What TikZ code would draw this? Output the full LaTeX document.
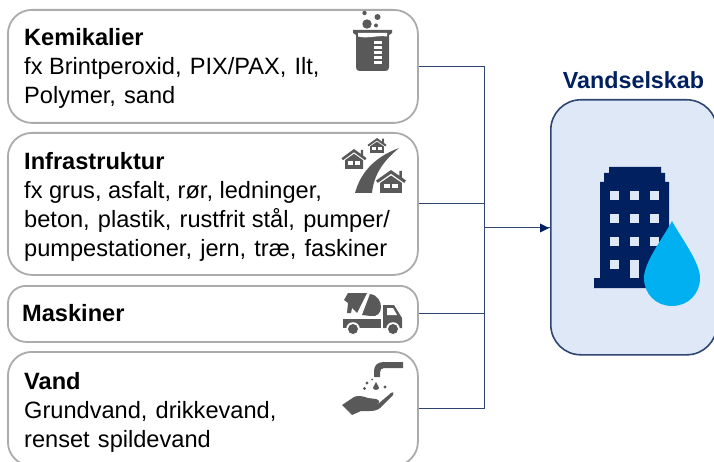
\documentclass[tikz,border=0pt]{standalone}
\usepackage{fontspec}
\setmainfont{Liberation Sans}
\definecolor{navy}{HTML}{002060}
\definecolor{boxgray}{HTML}{ABABAB}
\definecolor{icongray}{HTML}{595959}
\definecolor{linkblue}{HTML}{2F4672}
\definecolor{paleblue}{HTML}{DEE8F7}
\definecolor{dropblue}{HTML}{00B0F0}
\tikzset{
  x=1pt,y=-1pt,
  inbox/.style={draw=boxgray,line width=1.8pt,fill=white,rounded corners=24pt,minimum width=410pt,inner sep=0pt,anchor=north west},
  company/.style={draw=linkblue,line width=1.6pt,fill=paleblue,rounded corners=30pt,minimum width=166pt,minimum height=255pt,inner sep=0pt,anchor=north west},
  boxtext/.style={anchor=north west,align=left,inner sep=0pt,font=\fontsize{23.6}{29}\selectfont,text=black},
  link/.style={draw=linkblue,line width=1pt},
  icon/.style={fill=icongray,draw=none},
  hole/.style={fill=white,draw=none}
}
\newcommand{\gap}{\ \kern.07em}
\newcommand{\hut}[4]{% x apex, y apex, half width, height
  \fill[icongray] (#1-#3,#2+#4*0.46) -- (#1,#2) -- (#1+#3*0.55,#2+#4*0.25) -- (#1+#3*0.55,#2+#4*0.04) -- (#1+#3*0.72,#2+#4*0.04) -- (#1+#3*0.72,#2+#4*0.32) -- (#1+#3,#2+#4*0.46) -- (#1+#3*0.88,#2+#4*0.56) -- (#1,#2+#4*0.16) -- (#1-#3*0.88,#2+#4*0.56) -- cycle;
  \fill[icongray] (#1-#3*0.72,#2+#4*0.56) -- (#1,#2+#4*0.24) -- (#1+#3*0.72,#2+#4*0.56) -- (#1+#3*0.72,#2+#4) -- (#1-#3*0.72,#2+#4) -- cycle;
  \fill[white] (#1-#3*0.48,#2+#4*0.60) rectangle (#1-#3*0.08,#2+#4*0.80);
  \fill[white] (#1+#3*0.08,#2+#4*0.60) rectangle (#1+#3*0.48,#2+#4*0.80);
}
\begin{document}
\begin{tikzpicture}
\useasboundingbox (0,0) rectangle (714,462);
\clip (0,0) rectangle (714,462);
% boxes
\node[inbox,minimum height=113pt] (kem) at (7,9) {};
\node[inbox,minimum height=142pt] (inf) at (7,132) {};
\node[inbox,minimum height=56pt,rounded corners=18pt] (mas) at (7,285) {};
\node[inbox,minimum height=114pt] (van) at (7,351) {};
\node[company] (sel) at (550,99) {};
% connectors
\coordinate (bus) at (484,228);
\draw[link] (kem.east) -| (bus);
\draw[link] (inf.east) -| (bus);
\draw[link] (mas.east) -| (bus);
\draw[link] (van.east) -| (bus);
\draw[link] (bus) -- (sel.west |- bus);
\fill[navy] (sel.west |- bus) ++(-1,0) -- ++(-9,-4.5) -- ++(0,9) -- cycle;
% texts
\node[boxtext] (t1) at (24,28) {\textbf{Kemikalier}\\fx Brintperoxid,\gap PIX/PAX,\gap Ilt,\\Polymer,\gap sand};
\node[boxtext] (t2) at (24,152) {\textbf{Infrastruktur}\\fx grus, asfalt, rør, ledninger,\\beton,\gap plastik,\gap rustfrit stål,\gap pumper/\\pumpestationer,\gap jern,\gap træ,\gap faskiner};
\node[boxtext] (t3) at (22,304) {\textbf{Maskiner}};
\node[boxtext] (t4) at (24,372) {\textbf{Vand}\\Grundvand,\gap drikkevand,\\renset\gap spildevand};
\node[anchor=center,inner sep=0pt,text=navy,font=\bfseries\fontsize{23.3}{27}\selectfont] (t5) at (633.5,80) {Vandselskab};
% beaker
\fill[icon] (353,30) -- (392,30) -- (392,33) -- (389,35) -- (389,67) .. controls (389,70) and (388,71) .. (385,71) -- (360,71) .. controls (357,71) and (356,70) .. (356,67) -- (356,35) -- (353,33) -- cycle;
\fill[hole] (358,33) -- (387,33) -- (387,36.5) .. controls (378,35) and (367,39) .. (358,36.5) -- cycle;
\foreach \yy in {41,46,51,56,61}{\fill[hole] (374,\yy) rectangle (382,\yy+2.6);}
\fill[icon] (364.5,13) circle (2.2) (377.5,17) circle (3) (367,24) circle (4.7) (376,25.5) circle (2);
% road and houses
\fill[icon] (355,193) .. controls (360,175) and (372,158) .. (399,148) .. controls (386,159) and (374,172) .. (372,193) -- cycle;
\hut{354}{149}{12.5}{20}
\hut{377}{138}{9.5}{15}
\hut{391}{170}{15}{23}
% truck
\fill[icon] (343,319) rectangle (381,328);
\fill[icon] (383,305) -- (394,305) -- (402,318) -- (402,328) -- (383,328) -- cycle;
\fill[hole] (387,308) -- (393,308) -- (397,315) -- (387,315) -- cycle;
\fill[white] (353,329) circle (6.8) (393,329) circle (6.8);
\fill[icon] (353,329) circle (5) (393,329) circle (5);
\fill[icon] (348,293) -- (367,293) -- (357,313) -- (352,308) -- (351,313) -- (347,313) -- (348,303) -- (344,300) -- cycle;
\fill[icon] (370,294) .. controls (378,295) and (381,302) .. (381,307) .. controls (381,313) and (377,317) .. (371,316) -- (362,315) -- cycle;
% tap and hand
\fill[icon] (403,362) -- (403,368) -- (384,368) .. controls (381,368) and (380,370) .. (380,373) -- (380,377) -- (374,377) -- (374,371) .. controls (374,365) and (378,362) .. (384,362) -- cycle;
\fill[icon] (376,382) .. controls (378,386) and (379,387) .. (379,388) .. controls (379,390.5) and (373,390.5) .. (373,388) .. controls (373,387) and (374,386) .. (376,382) -- cycle;
\fill[icon] (367,383) circle (1.6) (364.5,388.5) circle (1.6) (385,387) circle (1.6) (372,379.5) circle (1);
\fill[icon] (342,405) -- (354,397) .. controls (358,395) and (362,396) .. (368,398) -- (376,399) .. controls (380,400) and (380,403) .. (377,404) -- (367,404) -- (378,404) -- (391,393) .. controls (394,391) and (394,394) .. (393,395) -- (380,408) .. controls (378,410) and (374,411) .. (370,411) -- (361,411) -- (352,415) -- cycle;
% building
\fill[navy] (594,288) -- (594,278) -- (600,278) -- (600,182) -- (604,182) -- (604,173) -- (609,173) -- (609,167) -- (661,167) -- (661,173) -- (665,173) -- (665,182) -- (669,182) -- (669,288) -- cycle;
\foreach \xx in {610,630,650}{\foreach \yy in {191,214,237}{\fill[paleblue] (\xx,\yy) rectangle (\xx+9,\yy+9);}}
\fill[paleblue] (610,260) rectangle (619,269);
\fill[paleblue] (630,260) rectangle (639,278);
\fill[paleblue] (650,260) rectangle (659,278);
\fill[dropblue] (672,221) .. controls (681,238) and (700,262) .. (700,278) .. controls (700,294) and (688,306) .. (672,306) .. controls (656,306) and (644,294) .. (644,278) .. controls (644,262) and (663,238) .. (672,221) -- cycle;
\end{tikzpicture}
\end{document}
